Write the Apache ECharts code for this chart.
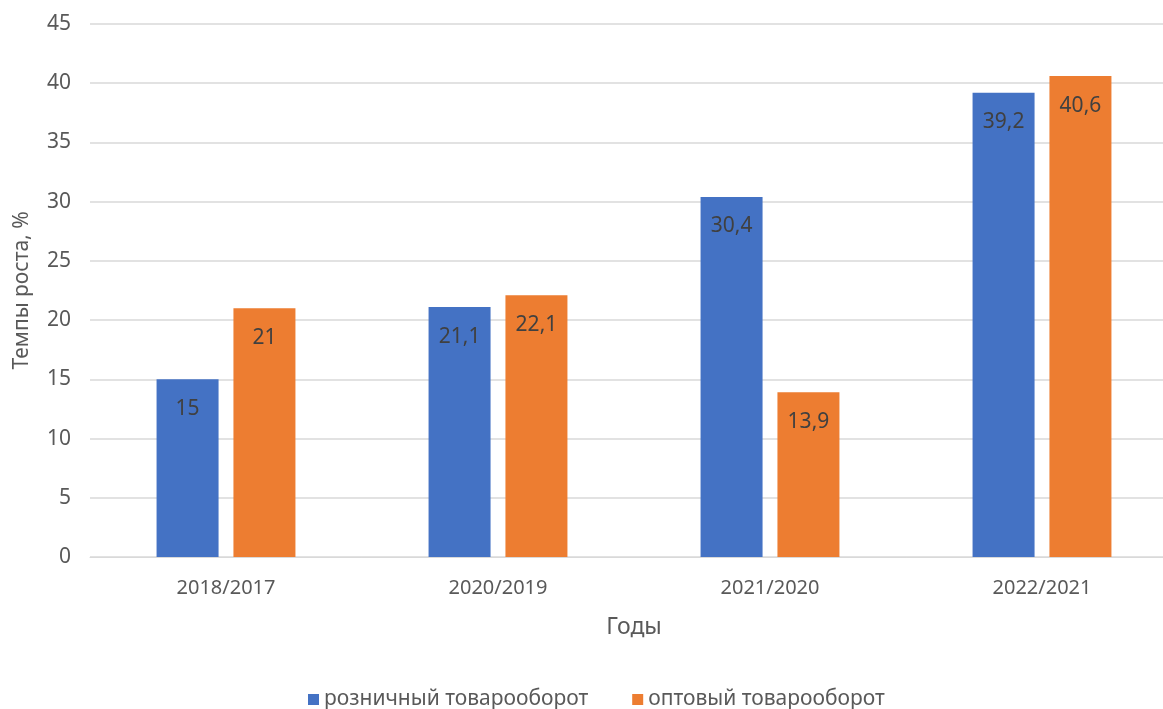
<!DOCTYPE html>
<html>
<head>
<meta charset="utf-8">
<script src="https://cdn.jsdelivr.net/npm/echarts@6/dist/echarts.min.js"></script>
<style>
  html, body { margin: 0; padding: 0; background: #fff; overflow: hidden; }
  #chart { width: 1180px; height: 709px; }
</style>
</head>
<body>
<div id="chart"></div>
<script>
var years = ['2018/2017', '2020/2019', '2021/2020', '2022/2021'];
var retail = [15, 21.1, 30.4, 39.2];
var wholesale = [21, 22.1, 13.9, 40.6];
var seriesNames = ['розничный товарооборот', 'оптовый товарооборот'];

var font = 'Noto Sans';
var chart = echarts.init(document.getElementById('chart'));

// подпись с десятичной запятой
function commaLabel(p) {
    return String(p.value).replace('.', ',');
}

var labelStyle = {
    show: true,
    position: 'insideTop',
    distance: 19,
    color: '#404040',
    fontSize: 21,
    fontFamily: font,
    formatter: commaLabel
};

var option = {
    backgroundColor: '#fff',
    animation: false,
    textStyle: { fontFamily: font },
    grid: {
        left: 90,
        top: 24,
        width: 1088,
        height: 533
    },
    legend: {
        top: 684,
        left: 303,
        itemWidth: 11,
        itemHeight: 11,
        itemGap: 44,
        icon: 'rect',
        textStyle: { fontSize: 21, color: '#595959', fontFamily: font },
        data: seriesNames
    },
    xAxis: {
        type: 'category',
        data: years,
        name: 'Годы',
        nameLocation: 'middle',
        nameGap: 59,
        nameTextStyle: { fontSize: 23, color: '#595959' },
        axisLine: { lineStyle: { color: '#d9d9d9', width: 1 } },
        axisTick: { show: false },
        axisLabel: { fontSize: 20, color: '#595959', margin: 21 }
    },
    yAxis: {
        type: 'value',
        min: 0,
        max: 45,
        interval: 5,
        name: 'Темпы роста, %',
        nameLocation: 'middle',
        nameGap: 57,
        nameTextStyle: { fontSize: 21, color: '#595959' },
        axisLine: { show: false },
        axisTick: { show: false },
        axisLabel: { fontSize: 21, color: '#595959', margin: 19 },
        splitLine: { lineStyle: { color: '#d9d9d9', width: 1.5 } }
    },
    series: [{
        name: seriesNames[0],
        type: 'bar',
        data: retail,
        barWidth: 62,
        barGap: '24%',
        itemStyle: { color: '#4472c4' },
        label: labelStyle
    }, {
        name: seriesNames[1],
        type: 'bar',
        data: wholesale,
        barWidth: 62,
        barGap: '24%',
        itemStyle: { color: '#ed7d31' },
        label: labelStyle
    }]
};
chart.setOption(option);
</script>
</body>
</html>
